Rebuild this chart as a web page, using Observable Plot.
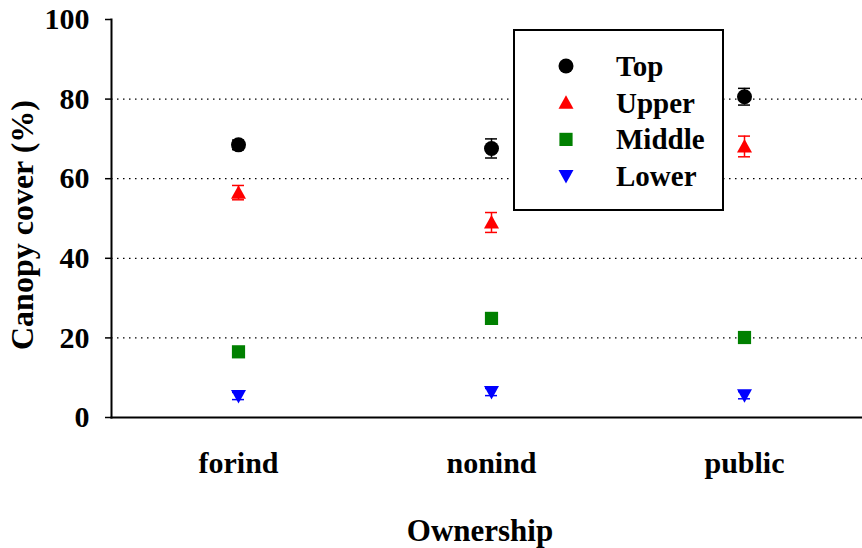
<!DOCTYPE html>
<html>
<head>
<meta charset="utf-8">
<script src="https://cdn.jsdelivr.net/npm/d3@7"></script>
<script src="https://cdn.jsdelivr.net/npm/@observablehq/plot@0.6"></script>
<style>
  html, body { margin: 0; padding: 0; background: #fff; }
  #chart { position: relative; width: 862px; height: 548px; }
</style>
</head>
<body>
<div id="chart"></div>
<script>
const categories = ["forind", "nonind", "public"];
const seriesNames = ["Top", "Upper", "Middle", "Lower"];
const seriesColors = ["#000000", "#ff0000", "#008000", "#0000ff"];
const topMean = [68.5, 67.6, 80.6];
const topErr = [1.2, 2.4, 2.1];
const upperMean = [56.5, 49.0, 68.1];
const upperErr = [1.8, 2.5, 2.6];
const middleMean = [16.5, 24.9, 20.1];
const middleErr = [0.5, 0.6, 0.5];
const lowerMean = [5.4, 6.4, 5.6];
const lowerErr = [0.9, 0.9, 0.9];
const yTicks = [0, 20, 40, 60, 80, 100];
const gridValues = [20, 40, 60, 80];

const means = [topMean, upperMean, middleMean, lowerMean];
const errs = [topErr, upperErr, middleErr, lowerErr];

const rOf = size => Math.sqrt(size / Math.PI);
const symCircle = d3.symbolCircle;
const symSquare = {draw(ctx, size) { const h = rOf(size) * 0.88; ctx.rect(-h, -h, 2 * h, 2 * h); }};
const symUp = {draw(ctx, size) { const r = rOf(size); ctx.moveTo(0, -r); ctx.lineTo(r, r * 0.8); ctx.lineTo(-r, r * 0.8); ctx.closePath(); }};
const symDown = {draw(ctx, size) { const r = rOf(size); ctx.moveTo(0, r); ctx.lineTo(r, -r * 0.8); ctx.lineTo(-r, -r * 0.8); ctx.closePath(); }};
const symbols = [symCircle, symUp, symSquare, symDown];

const marks = [];
marks.push(Plot.ruleY(gridValues, {stroke: "black", strokeWidth: 1.2, strokeDasharray: "1.5,4.5"}));
seriesNames.forEach((s, i) => {
  const data = categories.map((c, j) => ({cat: c, mean: means[i][j], lo: means[i][j] - errs[i][j], hi: means[i][j] + errs[i][j]}));
  marks.push(Plot.ruleX(data, {x: "cat", y1: "lo", y2: "hi", stroke: seriesColors[i], strokeWidth: 1.5}));
  marks.push(Plot.tickY(data, {x: "cat", y: "lo", stroke: seriesColors[i], strokeWidth: 1.5}));
  marks.push(Plot.tickY(data, {x: "cat", y: "hi", stroke: seriesColors[i], strokeWidth: 1.5}));
  marks.push(Plot.dot(data, {x: "cat", y: "mean", r: 7.5, symbol: symbols[i], fill: seriesColors[i], stroke: "none"}));
});
marks.push(Plot.axisY({ticks: yTicks, tickSize: 6, tickPadding: 16, fontSize: 30, fontWeight: "bold", label: null, strokeWidth: 1.5}));
marks.push(Plot.axisX({tickSize: 0, tickPadding: 34, fontSize: 30, fontWeight: "bold", label: null}));
marks.push(Plot.frame({anchor: "left", stroke: "black", strokeWidth: 2}));
marks.push(Plot.frame({anchor: "bottom", stroke: "black", strokeWidth: 2}));

const svg = Plot.plot({
  width: 862,
  height: 548,
  marginLeft: 111,
  marginRight: -8,
  marginTop: 19,
  marginBottom: 131,
  style: {fontFamily: "'Liberation Serif', 'Times New Roman', serif", fontWeight: "bold", color: "black", background: "white"},
  x: {type: "band", domain: categories, paddingInner: 0.953, paddingOuter: 0.4765},
  y: {domain: [0, 100]},
  marks
});

const sel = d3.select(svg);
// axis titles
sel.append("text")
  .attr("transform", "translate(22,225) rotate(-90)")
  .attr("text-anchor", "middle").attr("dominant-baseline", "central")
  .attr("font-size", 32).attr("font-weight", "bold").attr("fill", "black")
  .text("Canopy cover (%)");
sel.append("text")
  .attr("x", 480).attr("y", 530)
  .attr("text-anchor", "middle").attr("dominant-baseline", "central")
  .attr("font-size", 31).attr("font-weight", "bold").attr("fill", "black")
  .text("Ownership");

// legend
const lg = sel.append("g").attr("transform", "translate(514,30)");
lg.append("rect").attr("width", 209).attr("height", 180).attr("fill", "white").attr("stroke", "black").attr("stroke-width", 2);
seriesNames.forEach((s, i) => {
  const cy = 36 + i * 36.7;
  lg.append("path").attr("transform", `translate(52,${cy})`)
    .attr("d", d3.symbol(symbols[i], Math.PI * 7.5 * 7.5)())
    .attr("fill", seriesColors[i]);
  lg.append("text").attr("x", 102).attr("y", cy).attr("dominant-baseline", "central")
    .attr("text-anchor", "start")
    .attr("font-size", 29).attr("font-weight", "bold").attr("fill", "black").text(s);
});

document.getElementById("chart").appendChild(svg);
</script>
</body>
</html>
